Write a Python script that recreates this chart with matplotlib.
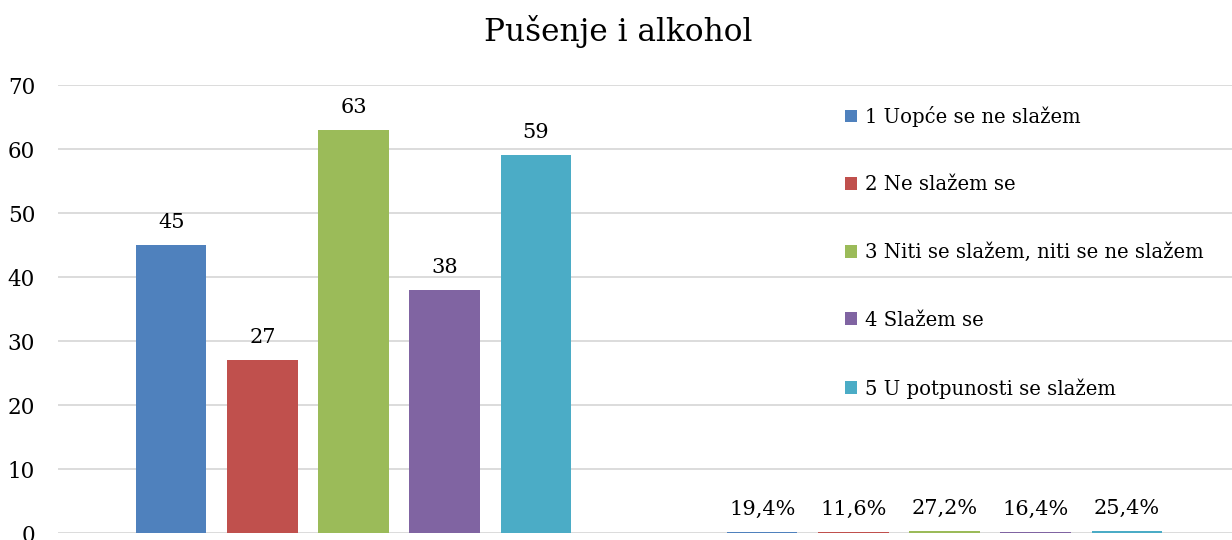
import matplotlib
matplotlib.use("Agg")
import matplotlib.pyplot as plt
from matplotlib.patches import Patch
import numpy as np

title = "Pušenje i alkohol"
series = ["1 Uopće se ne slažem", "2 Ne slažem se", "3 Niti se slažem, niti se ne slažem",
          "4 Slažem se", "5 U potpunosti se slažem"]
colors = ["#4F81BD", "#C0504D", "#9BBB59", "#8064A2", "#4BACC6"]
counts = [45, 27, 63, 38, 59]
shares = [0.194, 0.116, 0.272, 0.164, 0.254]
yticks = [0, 10, 20, 30, 40, 50, 60, 70]

plt.rcParams['font.family'] = ['DejaVu Serif']

W, H = 1232, 540
fig = plt.figure(figsize=(W/100, H/100), dpi=100)
ax = fig.add_axes([58/W, 7/H, 1182/W, 448/H])

step = 0.154
width = 0.1185
for i, (name, c) in enumerate(zip(series, colors)):
    off = (i - 2) * step
    ax.bar(0 + off, counts[i], width, color=c, zorder=3)
    ax.bar(1 + off, shares[i], width, color=c, zorder=3)
    ax.annotate(f"{counts[i]}", (0 + off, counts[i]), xytext=(0, 9.5), textcoords="offset points",
                ha="center", va="bottom", fontsize=15, color="#000000")
    ax.annotate(f"{shares[i]*100:.1f}%".replace(".", ","), (1 + off, shares[i]), xytext=(0, 9.5),
                textcoords="offset points", ha="center", va="bottom", fontsize=15, color="#000000")

ax.set_xlim(-0.5, 1.5)
ax.set_ylim(0, 70)
ax.set_yticks(yticks)
ax.set_xticks([])
ax.yaxis.grid(True, color="#D9D9D9", linewidth=1.3, zorder=0)
ax.set_axisbelow(True)
for s in ax.spines.values():
    s.set_visible(False)
ax.tick_params(axis="y", length=0, pad=16.5, labelsize=15.5)

fig.text(618/W, 1 - 32/H, title, ha="center", va="center", fontsize=22.5)

handles = [Patch(facecolor=c, edgecolor="none") for c in colors]
leg = fig.legend(handles, series, loc="upper left", bbox_to_anchor=(845/W, 1 - 106/H),
                 frameon=False, fontsize=14.1, handlelength=0.62, handleheight=0.62,
                 handletextpad=0.42, labelspacing=2.47, borderaxespad=0, borderpad=0)

fig.savefig("out.png", dpi=100, facecolor="white")
